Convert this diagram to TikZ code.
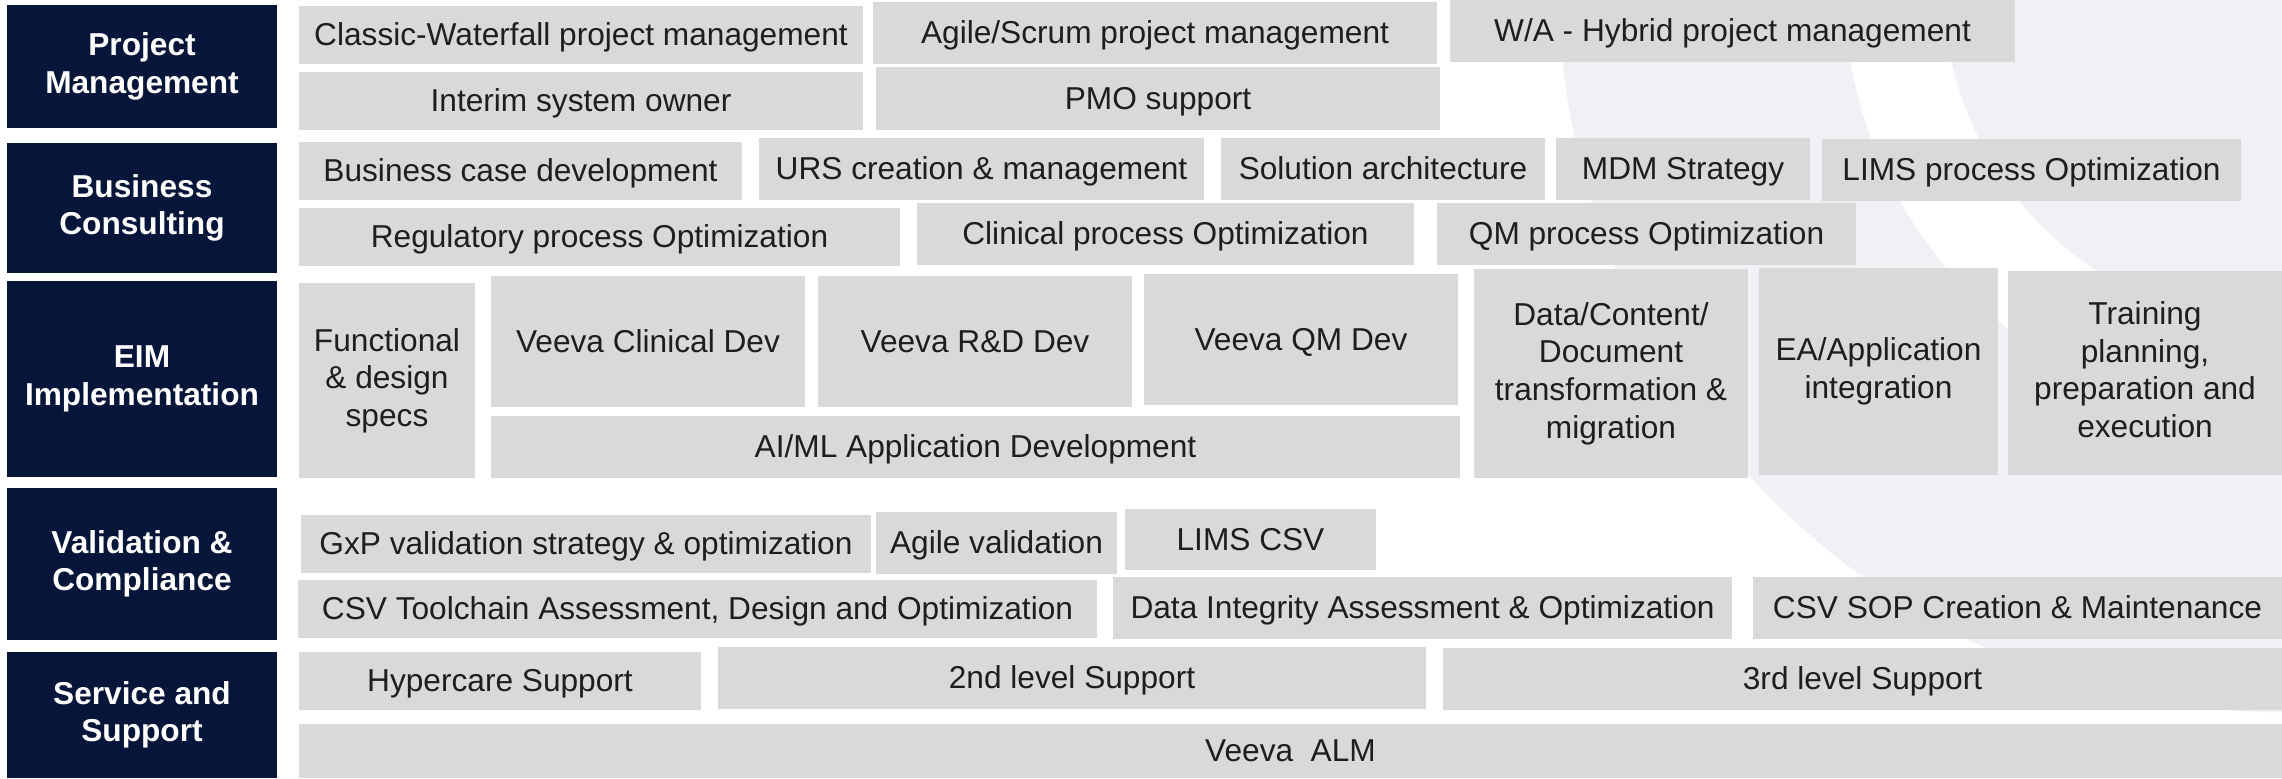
\documentclass[tikz,border=0pt]{standalone}
\usepackage{fontspec}
\setmainfont{Liberation Sans}
\usepackage{tikz}
\definecolor{navy}{RGB}{6,21,58}
\definecolor{tilegray}{RGB}{217,217,217}
\definecolor{tiletext}{RGB}{30,30,30}
\definecolor{swoosh}{RGB}{240,240,245}
% tile: [style]{name}{x1}{y1}{x2}{y2}{text}
\newcommand{\Tile}[7][tile]{
	\node[#1, minimum width=(#5-#3)*0.01cm, minimum height=(#6-#4)*0.01cm]
		(#2) at ({(#3+#5)/2},{(#4+#6)/2}) {#7};
}

\begin{document}
\begin{tikzpicture}[x=0.01cm, y=-0.01cm,
	tile/.style={fill=tilegray, text=tiletext, inner sep=0pt, align=center,
		font=\fontsize{9}{10.7}\selectfont,
		execute at begin node=\rule{0pt}{0.9em},
		execute at end node=\rule[-0.21em]{0pt}{0pt}},
	head/.style={tile, fill=navy, text=white, font=\fontsize{9}{10.7}\selectfont\bfseries}]

	\useasboundingbox (0,0) rectangle (2282,778);

	% background rings
	\coordinate (O) at (2286,-15);
	\begin{scope}
		\clip (0,0) rectangle (2282,778);
		\fill[swoosh, even odd rule] (O) circle[radius=7.27cm] (O) circle[radius=4.42cm];
		\fill[swoosh] (O) circle[radius=3.43cm];
	\end{scope}

	% headers
	\Tile[head]{pm}{7}{5}{277}{128}{Project\\Management}
	\Tile[head]{bc}{7}{143}{277}{273}{Business\\Consulting}
	\Tile[head]{eim}{7}{281}{277}{477}{EIM\\Implementation}
	\Tile[head]{vc}{7}{488}{277}{640}{Validation \&\\Compliance}
	\Tile[head]{ss}{7}{652}{277}{778}{Service and\\Support}

	% project management
	\Tile{classic}{299}{6}{863}{64}{Classic-Waterfall project management}
	\Tile{agile}{873}{2}{1437}{64}{Agile/Scrum project management}
	\Tile{hybrid}{1450}{0}{2015}{62}{W/A - Hybrid project management}
	\Tile{interim}{299}{72}{863}{130}{Interim system owner}
	\Tile{pmo}{876}{67}{1440}{130}{PMO support}

	% business consulting
	\Tile{bcase}{299}{142}{742}{200}{Business case development}
	\Tile{urs}{759}{138}{1204}{200}{URS creation \& management}
	\Tile{solarch}{1221}{138}{1545}{200}{Solution architecture}
	\Tile{mdm}{1556}{138}{1810}{200}{MDM Strategy}
	\Tile{limsproc}{1822}{139}{2241}{201}{LIMS process Optimization}
	\Tile{regproc}{299}{208}{900}{266}{Regulatory process Optimization}
	\Tile{clinproc}{917}{203}{1414}{265}{Clinical process Optimization}
	\Tile{qmproc}{1437}{203}{1856}{265}{QM process Optimization}

	% implementation
	\Tile{func}{299}{283}{475}{478}{Functional\\\& design\\specs}
	\Tile{vclin}{491}{276}{805}{407}{Veeva Clinical Dev}
	\Tile{vrd}{818}{276}{1132}{407}{Veeva R\&D Dev}
	\Tile{vqm}{1144}{274}{1458}{405}{Veeva QM Dev}
	\Tile{aiml}{491}{416}{1460}{478}{AI/ML Application Development}
	\Tile{migr}{1474}{269}{1748}{478}{Data/Content/\\Document\\transformation \&\\migration}
	\Tile{eaint}{1759}{268}{1998}{475}{EA/Application\\integration}
	\Tile{train}{2008}{271}{2282}{475}{Training\\planning,\\preparation and\\execution}

	% validation
	\Tile{gxp}{301}{515}{871}{573}{GxP validation strategy \& optimization}
	\Tile{agileval}{876}{512}{1117}{574}{Agile validation}
	\Tile{limscsv}{1125}{509}{1376}{570}{LIMS CSV}
	\Tile{csvtool}{298}{580}{1097}{638}{CSV Toolchain Assessment, Design and Optimization}
	\Tile{dataint}{1113}{577}{1732}{639}{Data Integrity Assessment \& Optimization}
	\Tile{csvsop}{1753}{577}{2282}{639}{CSV SOP Creation \& Maintenance}

	% support
	\Tile{hyper}{299}{652}{701}{710}{Hypercare Support}
	\Tile{second}{718}{647}{1426}{709}{2nd level Support}
	\Tile{third}{1443}{648}{2282}{710}{3rd level Support}
	\Tile{alm}{299}{724}{2282}{778}{Veeva\ \ ALM}

\end{tikzpicture}
\end{document}
